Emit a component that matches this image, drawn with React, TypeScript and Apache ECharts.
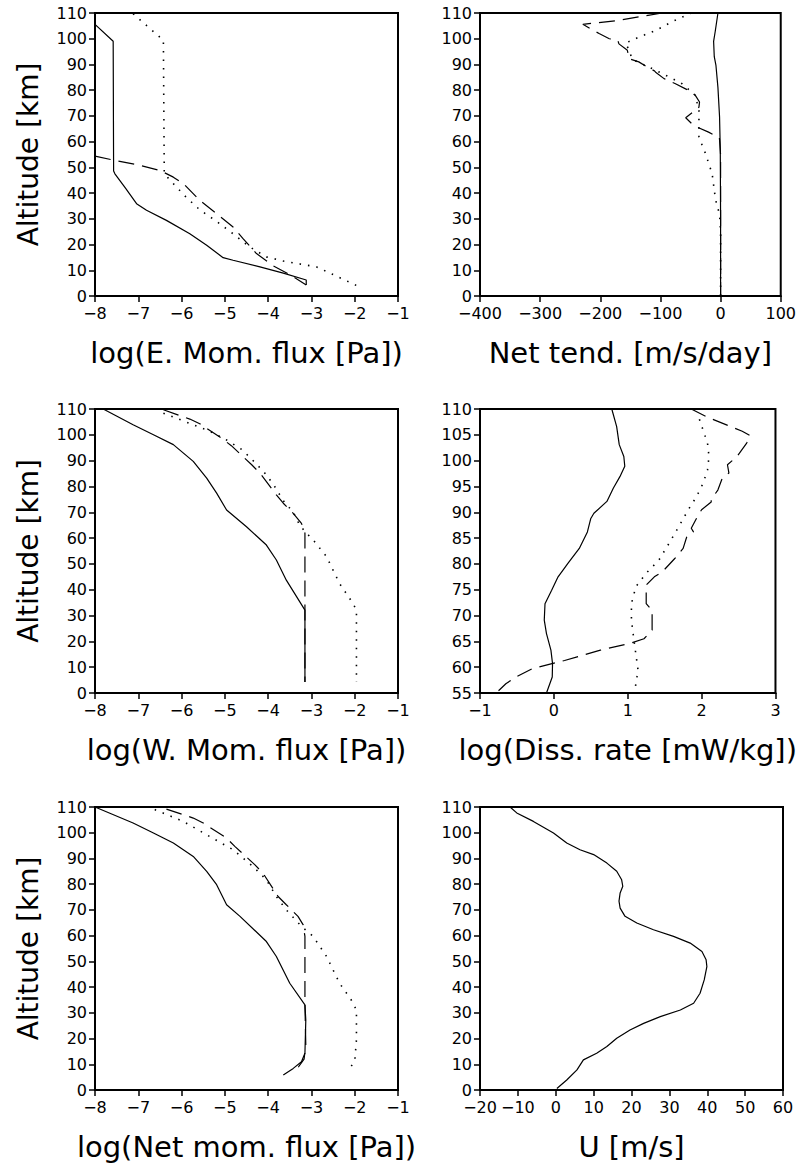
import React, { useEffect, useRef } from "react";
import * as echarts from "echarts";

// ---- Panel 1: log(E. Mom. flux [Pa]) ----
const eSolid = [[-8, 105.6], [-7.58, 99], [-7.57, 48.6], [-7.54, 47.5], [-7.3, 42], [-7.04, 35.9], [-6.81, 33.3], [-6.35, 29.4], [-5.81, 24.2], [-5.42, 19.7], [-5.04, 14.9], [-4.81, 13.9], [-4.19, 11.3], [-3.65, 8.9], [-3.12, 6.2], [-3.12, 4.3]];
const eDashed = [[-8, 54.4], [-7.54, 52.7], [-6.96, 50.8], [-6.5, 48.8], [-6.19, 46.2], [-5.96, 43.7], [-5.58, 37.2], [-5.19, 32], [-4.81, 26.8], [-4.58, 22.3], [-4.27, 16.5], [-3.88, 11.7], [-3.5, 8.3], [-3.12, 4.3]];
const eDotted = [[-7.12, 109.7], [-6.42, 99.4], [-6.4, 47.5], [-6.12, 42.4], [-5.9, 38.5], [-5.58, 33.5], [-5.19, 29], [-4.81, 24.2], [-4.42, 19], [-4.04, 15.2], [-3.65, 13.6], [-2.88, 11.3], [-1.96, 4.1]];

// ---- Panel 2: Net tend. [m/s/day] ----
const nSolid = [[0, 0], [0, 30], [-0.5, 56.6], [-1.7, 69.6], [-4.4, 81], [-7.7, 89.6], [-10.5, 93], [-11.6, 99], [-8.8, 103], [-4.4, 110]];
const nDashed = [[-97, 110], [-174, 107], [-229, 105.6], [-202, 102], [-185, 100], [-171, 99.4], [-169, 98], [-155, 95.5], [-152, 92.2], [-136, 91], [-122, 89], [-110, 87.5], [-108, 87], [-94, 84.5], [-75, 82.5], [-54, 80], [-42, 78], [-35, 75.4], [-36, 73.4], [-58, 69.3], [-45, 66.3], [-20, 63.7], [-2, 61.5], [0, 55], [0, 0]];
const nDotted = [[-48.5, 110], [-80, 106.7], [-108, 103.2], [-136, 100.6], [-158, 98.3], [-152, 95.5], [-147, 92], [-113, 88.3], [-80, 84.5], [-64, 82.5], [-42, 78], [-36, 72], [-36, 67], [-36, 61.8], [-25, 55.3], [-14, 47.5], [-9, 38.5], [-6, 35], [-1.7, 32], [0, 25], [0, 0]];

// ---- Panel 3: log(W. Mom. flux [Pa]) ----
const wSolid = [[-7.81, 110], [-7.12, 103.9], [-6.65, 100], [-6.19, 96.2], [-5.73, 89.7], [-5.42, 83.2], [-5.19, 77.4], [-4.96, 70.9], [-4.5, 64.4], [-4.04, 57.3], [-3.81, 51.5], [-3.58, 43.7], [-3.15, 32.1], [-3.15, 4.3]];
const wDashed = [[-6.42, 109.7], [-5.81, 106.1], [-5.58, 104.3], [-5.08, 98.7], [-4.85, 95.8], [-4.38, 88.4], [-4.19, 85.2], [-3.81, 76.7], [-3.65, 73.5], [-3.42, 69.6], [-3.23, 65.7], [-3.15, 61.9], [-3.15, 4.3]];
const wDotted = [[-6.42, 108.4], [-5.96, 105.4], [-5.35, 101.4], [-4.96, 98], [-4.6, 94.2], [-4.27, 88.7], [-4.04, 84.5], [-3.85, 80], [-3.65, 74.5], [-3.42, 70], [-3.27, 65], [-3.12, 62], [-2.96, 59.3], [-2.65, 52.8], [-2.35, 42.4], [-2.04, 34.7], [-1.96, 32.1], [-1.96, 4.3]];

// ---- Panel 4: log(Diss. rate [mW/kg]) ----
const dSolid = [[0.784, 110], [0.85, 106.6], [0.885, 103.1], [0.947, 100.8], [0.96, 98.9], [0.894, 96.9], [0.806, 94.7], [0.718, 92.1], [0.542, 89.8], [0.5, 88.8], [0.454, 86.2], [0.344, 83], [0.19, 80.1], [0.057, 77.5], [-0.03, 74.9], [-0.12, 72.3], [-0.13, 69.1], [-0.1, 66.5], [-0.04, 63.3], [-0.018, 60.7], [-0.022, 58.1], [-0.1, 55]];
const dDashed = [[1.86, 110], [2.08, 108.4], [2.55, 105.7], [2.66, 104.8], [2.61, 103.4], [2.48, 100.8], [2.35, 99.2], [2.37, 97.6], [2.28, 96.6], [2.22, 94.3], [2.13, 92.5], [2.13, 92], [2.0, 90.5], [1.93, 88.8], [1.86, 86.9], [1.89, 86.2], [1.8, 85.3], [1.75, 83], [1.64, 81.1], [1.47, 78.5], [1.36, 77.5], [1.25, 75.9], [1.25, 72.3], [1.33, 71], [1.33, 67.2], [1.22, 65.5], [1.03, 64.6], [0.63, 63.3], [0.145, 61.3], [-0.295, 59.7], [-0.515, 58.1], [-0.65, 56.8], [-0.78, 55]];
const dDotted = [[1.97, 108], [2.08, 103.4], [2.1, 100.8], [2.08, 98.2], [2.02, 95.6], [1.93, 93], [1.82, 90.5], [1.69, 87.2], [1.56, 84], [1.42, 80.7], [1.25, 78.2], [1.11, 75.6], [1.05, 72.3], [1.05, 69.1], [1.09, 64.6], [1.14, 59.4], [1.09, 55]];

// ---- Panel 5: log(Net mom. flux [Pa]) ----
const mSolid = [[-8, 110], [-7.12, 103.8], [-6.65, 99.9], [-6.19, 96], [-5.73, 90.8], [-5.42, 85], [-5.19, 79.8], [-4.96, 72], [-4.65, 67.5], [-4.04, 57.7], [-3.81, 51.9], [-3.5, 41.5], [-3.15, 33.1], [-3.13, 27.2], [-3.15, 14.3], [-3.23, 11], [-3.42, 8.4], [-3.65, 5.8]];
const mDashed = [[-6.35, 109.2], [-5.73, 105.7], [-5.5, 103.8], [-4.96, 97.9], [-4.77, 94.7], [-4.31, 87.6], [-4.12, 84.3], [-3.77, 75.2], [-3.58, 72], [-3.31, 67.5], [-3.19, 64.2], [-3.15, 59.7], [-3.15, 33], [-3.13, 17.5], [-3.17, 12], [-3.3, 9], [-3.42, 8]];
const mDotted = [[-6.62, 109], [-5.96, 104.4], [-5.42, 99.2], [-4.81, 93.4], [-4.35, 86.9], [-4.04, 81.7], [-3.81, 75.2], [-3.58, 70], [-3.23, 63.6], [-2.96, 59.7], [-2.65, 51.9], [-2.35, 41.5], [-2.08, 35], [-1.96, 31.1], [-1.96, 19.5], [-2.0, 11], [-2.15, 7.8]];

// ---- Panel 6: U [m/s] ----
const uSolid = [[-12.07, 110], [-10.3, 107.7], [-5.9, 104.4], [-0.6, 99.9], [2.9, 96], [6.4, 93.4], [10, 91.5], [13.5, 88.2], [16.1, 85], [17.4, 81.7], [17.7, 79.2], [17, 76.6], [16.7, 73.4], [17, 70.7], [18.3, 67.5], [21.4, 64.9], [25.8, 62.3], [31.1, 59.7], [35.5, 57.1], [38.6, 53.8], [39.7, 50.6], [39.9, 48], [39.2, 42.8], [38.1, 37.6], [36.4, 33.7], [32.9, 31.1], [27.6, 28.5], [23.2, 25.9], [19.6, 23.3], [16.1, 20.1], [13.5, 16.9], [10.8, 14.3], [7.3, 11.7], [5.6, 7.8], [2.9, 3.9], [0.3, 0.6]];

// axis definitions
const xNames = ["log(E. Mom. flux [Pa])", "Net tend. [m/s/day]", "log(W. Mom. flux [Pa])", "log(Diss. rate [mW/kg])", "log(Net mom. flux [Pa])", "U [m/s]"];
const xMins = [-8, -400, -8, -1, -8, -20];
const xMaxs = [-1, 100, -1, 3, -1, 60];
const xSteps = [1, 100, 1, 1, 1, 10];
const yMins = [0, 0, 0, 55, 0, 0];
const yMaxs = [110, 110, 110, 110, 110, 110];
const ySteps = [10, 10, 10, 5, 10, 10];
const yName = "Altitude [km]";

const panelSeries = [
  [eSolid, eDashed, eDotted],
  [nSolid, nDashed, nDotted],
  [wSolid, wDashed, wDotted],
  [dSolid, dDashed, dDotted],
  [mSolid, mDashed, mDotted],
  [uSolid],
];

const FONT = "DejaVu Sans";

export default function App() {
  const ref = useRef<HTMLDivElement>(null);
  useEffect(() => {
    if (!ref.current) return;
    const chart = echarts.init(ref.current, null, { renderer: "svg" });
    const grids = [
      { left: 95, top: 13, width: 303, height: 283 },
      { left: 480, top: 13, width: 302, height: 283 },
      { left: 95, top: 409, width: 303, height: 284 },
      { left: 480, top: 409, width: 303, height: 284 },
      { left: 95, top: 807, width: 303, height: 283 },
      { left: 480, top: 807, width: 303, height: 283 },
    ].map((g) => ({ ...g, show: true, borderColor: "#000", borderWidth: 2, backgroundColor: "transparent" }));
    const fmt = (v: number) => String(v).replace("-", "\u2212");
    const axisCommon = {
      type: "value" as const,
      axisLine: { show: true, onZero: false, lineStyle: { color: "#000", width: 2 } },
      axisTick: { show: true, inside: false, length: 6, lineStyle: { color: "#000", width: 1.5 } },
      splitLine: { show: false },
      axisLabel: { color: "#000", fontSize: 16, fontFamily: FONT, formatter: fmt },
    };
    const xAxis = xNames.map((n, i) => ({
      ...axisCommon,
      gridIndex: i,
      min: xMins[i],
      max: xMaxs[i],
      interval: xSteps[i],
      name: n,
      nameLocation: "middle",
      nameGap: 42,
      nameTextStyle: { color: "#000", fontSize: 29, fontFamily: FONT },
      axisLabel: { ...axisCommon.axisLabel, margin: 9, lineHeight: 16 },
    }));
    const yAxis = yMins.map((m, i) => ({
      ...axisCommon,
      gridIndex: i,
      min: m,
      max: yMaxs[i],
      interval: ySteps[i],
      name: i % 2 === 0 ? yName : "",
      nameLocation: "middle",
      nameRotate: 90,
      nameGap: 53,
      nameTextStyle: { color: "#000", fontSize: 28, fontFamily: FONT },
      axisLabel: { ...axisCommon.axisLabel, margin: 8, lineHeight: 14 },
    }));
    const styles = [
      { type: "solid", width: 1.2 },
      { type: [16, 8], width: 1.2 },
      { type: [1.5, 7], width: 1.6 },
    ];
    const series: any[] = [];
    panelSeries.forEach((list, i) => {
      list.forEach((data, k) => {
        series.push({
          type: "line",
          xAxisIndex: i,
          yAxisIndex: i,
          data,
          symbol: "none",
          smooth: false,
          lineStyle: { color: "#000", ...styles[k], cap: "butt" },
          z: 3 - k,
        });
      });
    });
    chart.setOption({
      animation: false,
      backgroundColor: "#fff",
      textStyle: { fontFamily: FONT },
      grid: grids,
      xAxis,
      yAxis,
      series,
    });
    return () => chart.dispose();
  }, []);
  return <div ref={ref} style={{ position: "absolute", left: 0, top: 0, width: 799, height: 1165 }} />;
}
